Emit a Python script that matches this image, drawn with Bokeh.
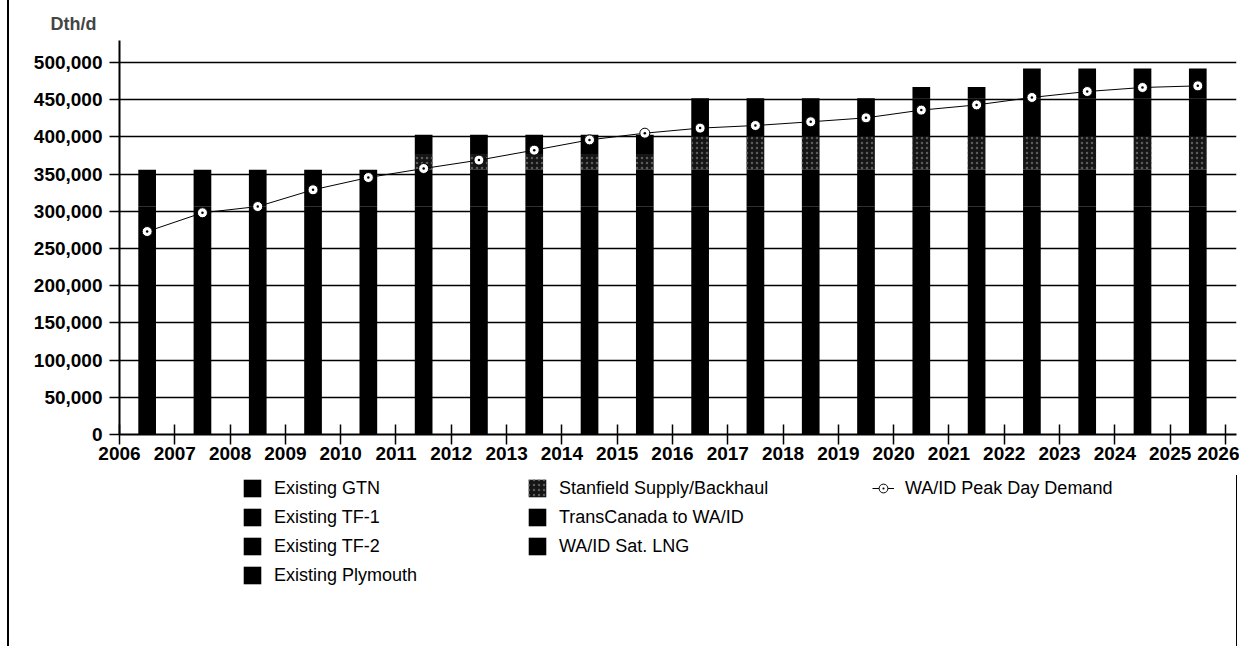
from bokeh.plotting import figure
from bokeh.layouts import column
from bokeh.models import Range1d, Legend, LegendItem, FixedTicker, NumeralTickFormatter
from bokeh.embed import file_html
from bokeh.resources import INLINE

years = [2006, 2007, 2008, 2009, 2010, 2011, 2012, 2013, 2014, 2015,
         2016, 2017, 2018, 2019, 2020, 2021, 2022, 2023, 2024, 2025]
year_ticks = [2006, 2007, 2008, 2009, 2010, 2011, 2012, 2013, 2014, 2015, 2016,
              2017, 2018, 2019, 2020, 2021, 2022, 2023, 2024, 2025, 2026]
value_ticks = [0, 50000, 100000, 150000, 200000, 250000, 300000, 350000, 400000, 450000, 500000]

existing_gtn = [99000, 99000, 99000, 99000, 99000, 99000, 99000, 99000, 99000, 99000,
                99000, 99000, 99000, 99000, 99000, 99000, 99000, 99000, 99000, 99000]
existing_tf1 = [157000, 157000, 157000, 157000, 157000, 157000, 157000, 157000, 157000, 157000,
                157000, 157000, 157000, 157000, 157000, 157000, 157000, 157000, 157000, 157000]
existing_tf2 = [50000, 50000, 50000, 50000, 50000, 50000, 50000, 50000, 50000, 50000,
                50000, 50000, 50000, 50000, 50000, 50000, 50000, 50000, 50000, 50000]
existing_plymouth = [50000, 50000, 50000, 50000, 50000, 50000, 50000, 50000, 50000, 50000,
                     50000, 50000, 50000, 50000, 50000, 50000, 50000, 50000, 50000, 50000]
stanfield = [0, 0, 0, 0, 0, 21000, 21000, 21000, 21000, 21000,
             45000, 45000, 45000, 45000, 45000, 45000, 45000, 45000, 45000, 45000]
transcanada = [0, 0, 0, 0, 0, 26000, 26000, 26000, 26000, 26000,
               51000, 51000, 51000, 51000, 51000, 51000, 51000, 51000, 51000, 51000]
sat_lng = [0, 0, 0, 0, 0, 0, 0, 0, 0, 0,
           0, 0, 0, 0, 15000, 15000, 40000, 40000, 40000, 40000]
peak_demand = [272800, 298000, 306400, 328900, 345400, 357500, 368800, 382200, 396000, 405000,
               411800, 415300, 420300, 425600, 436000, 443000, 453000, 461000, 466400, 468600]

series_names = ["Existing GTN", "Existing TF-1", "Existing TF-2", "Existing Plymouth",
                "Stanfield Supply/Backhaul", "TransCanada to WA/ID", "WA/ID Sat. LNG"]
series_values = [existing_gtn, existing_tf1, existing_tf2, existing_plymouth,
                 stanfield, transcanada, sat_lng]
series_colors = ["black", "black", "black", "black", "#151515", "black", "black"]

xc = [y + 0.5 for y in years]
FONT = "Liberation Sans"


def draw_series(fig):
    rs = []
    bottom = [0] * len(years)
    for vals, c in zip(series_values, series_colors):
        top = [b + v for b, v in zip(bottom, vals)]
        kw = {}
        if c != "black":
            kw = dict(hatch_pattern="dot", hatch_color="#5a5a5a", hatch_scale=5, hatch_weight=1)
        r = fig.vbar(x=xc, bottom=bottom, top=top, width=0.32, fill_color=c, line_color=None, **kw)
        rs.append(r)
        bottom = top
    ln = fig.line(xc, peak_demand, line_color="black", line_width=1)
    sc = fig.scatter(xc, peak_demand, marker="circle_dot", size=10, fill_color="white",
                     line_color="black", line_width=1)
    return rs, ln, sc


# ---- main chart ----
p = figure(width=1230, height=475, output_backend="svg", toolbar_location=None,
           x_range=Range1d(2006, 2026.2), y_range=Range1d(0, 529570),
           min_border_left=110, min_border_right=3, min_border_top=40, min_border_bottom=41,
           title="Dth/d")
p.outline_line_color = None
p.border_fill_color = "white"

p.title.align = "left"
p.title.offset = -69
p.title.text_font = FONT
p.title.text_font_size = "18px"
p.title.text_font_style = "bold"
p.title.standoff = 13

draw_series(p)

p.xgrid.grid_line_color = None
p.ygrid.grid_line_color = "black"
p.ygrid.grid_line_width = 1.6
p.ygrid.ticker = FixedTicker(ticks=value_ticks)

p.yaxis.ticker = FixedTicker(ticks=value_ticks)
p.yaxis.formatter = NumeralTickFormatter(format="0,0")
p.xaxis.ticker = FixedTicker(ticks=year_ticks)
for ax in (p.xaxis[0], p.yaxis[0]):
    ax.axis_line_color = "black"
    ax.axis_line_width = 2
    ax.major_tick_line_color = "black"
    ax.major_tick_line_width = 1.5
    ax.minor_tick_line_color = None
    ax.major_label_text_font = FONT
    ax.major_label_text_font_size = "19px"
    ax.major_label_text_font_style = "bold"
    ax.major_label_text_color = "black"
p.yaxis.major_tick_in = 0
p.yaxis.major_tick_out = 10
p.yaxis.major_label_standoff = 7
p.xaxis.major_tick_in = 10
p.xaxis.major_tick_out = 10
p.xaxis.major_label_standoff = 2

# ---- legend strip ----
q = figure(width=1230, height=171, output_backend="svg", toolbar_location=None,
           x_range=Range1d(0, 1), y_range=Range1d(0, 1),
           x_axis_type=None, y_axis_type=None,
           min_border_left=0, min_border_right=0, min_border_top=0, min_border_bottom=0)
q.outline_line_color = None
q.grid.grid_line_color = None
q.border_fill_color = "white"
lrs, lln, lsc = draw_series(q)


def mk_legend(items, loc):
    lg = Legend(items=items, location=loc, orientation="vertical",
                glyph_width=22, glyph_height=22, label_height=22, label_standoff=11,
                spacing=7, padding=0, margin=0, border_line_color=None,
                background_fill_alpha=0, label_text_font=FONT, label_text_font_size="18px",
                label_text_color="black")
    q.add_layout(lg, "center")
    return lg


mk_legend([LegendItem(label=series_names[i], renderers=[lrs[i]]) for i in range(4)], (122, 60))
mk_legend([LegendItem(label=series_names[i], renderers=[lrs[i]]) for i in range(4, 7)], (407, 89))
mk_legend([LegendItem(label="WA/ID Peak Day Demand", renderers=[lln, lsc])], (753, 147))

layout = column(p, q, spacing=0)
layout.styles = {"border-left": "2px solid black", "margin-left": "7px"}

open("out.html", "w").write(file_html(layout, INLINE))
